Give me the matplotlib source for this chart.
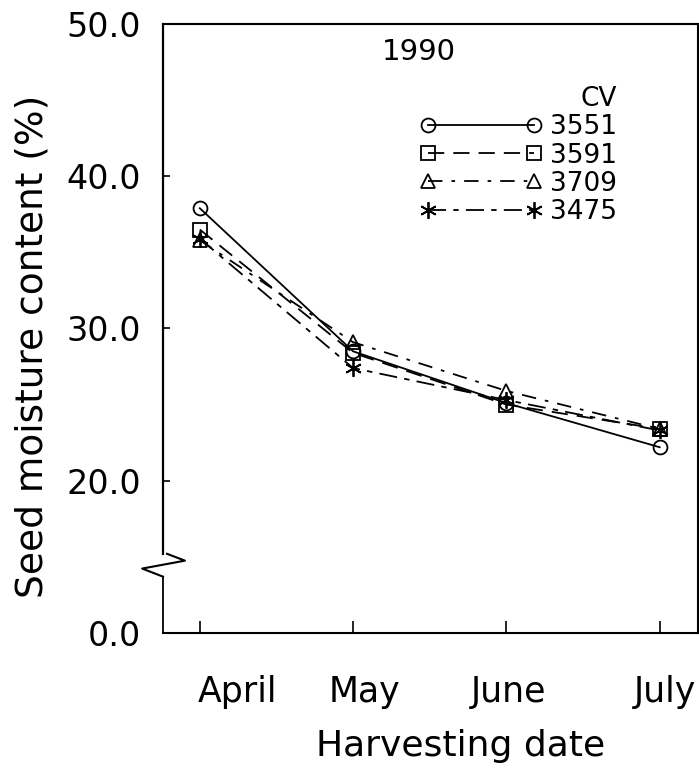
import matplotlib
matplotlib.use("Agg")
import matplotlib.pyplot as plt
from matplotlib.transforms import blended_transform_factory, ScaledTranslation

# data (broken axis: "0.0" sits where 10 would be)
months = ["April", "May", "June", "July"]
cv_names = ["3551", "3591", "3709", "3475"]
moisture_3551 = [37.9, 28.5, 25.1, 22.2]
moisture_3591 = [36.5, 28.4, 25.0, 23.4]
moisture_3709 = [35.8, 29.1, 25.9, 23.4]
moisture_3475 = [35.9, 27.4, 25.3, 23.3]
y_ticks = [10, 20, 30, 40, 50]
y_labels = ["0.0", "20.0", "30.0", "40.0", "50.0"]

fig = plt.figure(figsize=(6.99, 7.74), dpi=100)
ax = fig.add_axes([0.2332, 0.1822, 0.7654, 0.7868])

x = range(len(months))
styles = [
    dict(marker="o", linestyle="-", markersize=10),
    dict(marker="s", linestyle=(0, (9, 5)), markersize=10),
    dict(marker="^", linestyle=(0, (8, 5, 2, 5)), markersize=10),
    dict(marker=(6, 2, 0), linestyle=(0, (10, 4, 3, 4)), markersize=12),
]
series = [moisture_3551, moisture_3591, moisture_3709, moisture_3475]
for vals, name, st in zip(series, cv_names, styles):
    ax.plot(x, vals, color="black", lw=1.3,
            markerfacecolor="none", markeredgecolor="black", mew=1.3,
            label=name, **st)

ax.set_xlim(-0.24, 3.25)
ax.set_ylim(10, 50)
ax.set_xticks(list(x))
ax.set_xticklabels(months, fontsize=25)
ax.set_yticks(y_ticks)
ax.set_yticklabels(y_labels, fontsize=24)
ax.tick_params(axis="x", direction="in", length=9, width=1.2, pad=30)
ax.tick_params(axis="y", direction="in", length=5, width=1.2, pad=16)

# month labels in the original sit a little right of their ticks
shifts_px = [38, 11, 2, 5]
for lab, dx in zip(ax.get_xticklabels(), shifts_px):
    lab.set_transform(lab.get_transform() + ScaledTranslation(dx / 100, 0, fig.dpi_scale_trans))

ax.set_xlabel("Harvesting date", fontsize=26)
ax.xaxis.set_label_coords(0.557, -0.158)
ax.set_ylabel("Seed moisture content (%)", fontsize=27)
ax.yaxis.set_label_coords(-0.211, 0.471)

for s in ["top", "bottom", "right"]:
    ax.spines[s].set_linewidth(1.5)
ax.spines["left"].set_visible(False)

# left axis drawn in two pieces with a break mark
tr = blended_transform_factory(ax.transAxes, ax.transData)
ax.plot([0, 0], [10, 13.7], color="black", lw=1.3, transform=tr, clip_on=False)
ax.plot([0, 0], [15.2, 50], color="black", lw=1.6, transform=tr, clip_on=False)
ax.plot([0.0075, 0.041, -0.039, 0.0], [15.2, 14.75, 14.23, 13.7],
        color="black", lw=1.5, transform=tr, clip_on=False)

ax.text(0.478, 0.954, "1990", transform=ax.transAxes, fontsize=21,
        ha="center", va="center")

leg = ax.legend(loc="upper right", bbox_to_anchor=(0.868, 0.915), frameon=False,
                fontsize=19, handlelength=4.6, numpoints=2, handletextpad=0.3,
                labelspacing=0.08, title="CV", title_fontsize=19,
                alignment="right", borderaxespad=0)

fig.savefig("out.png", dpi=100)
